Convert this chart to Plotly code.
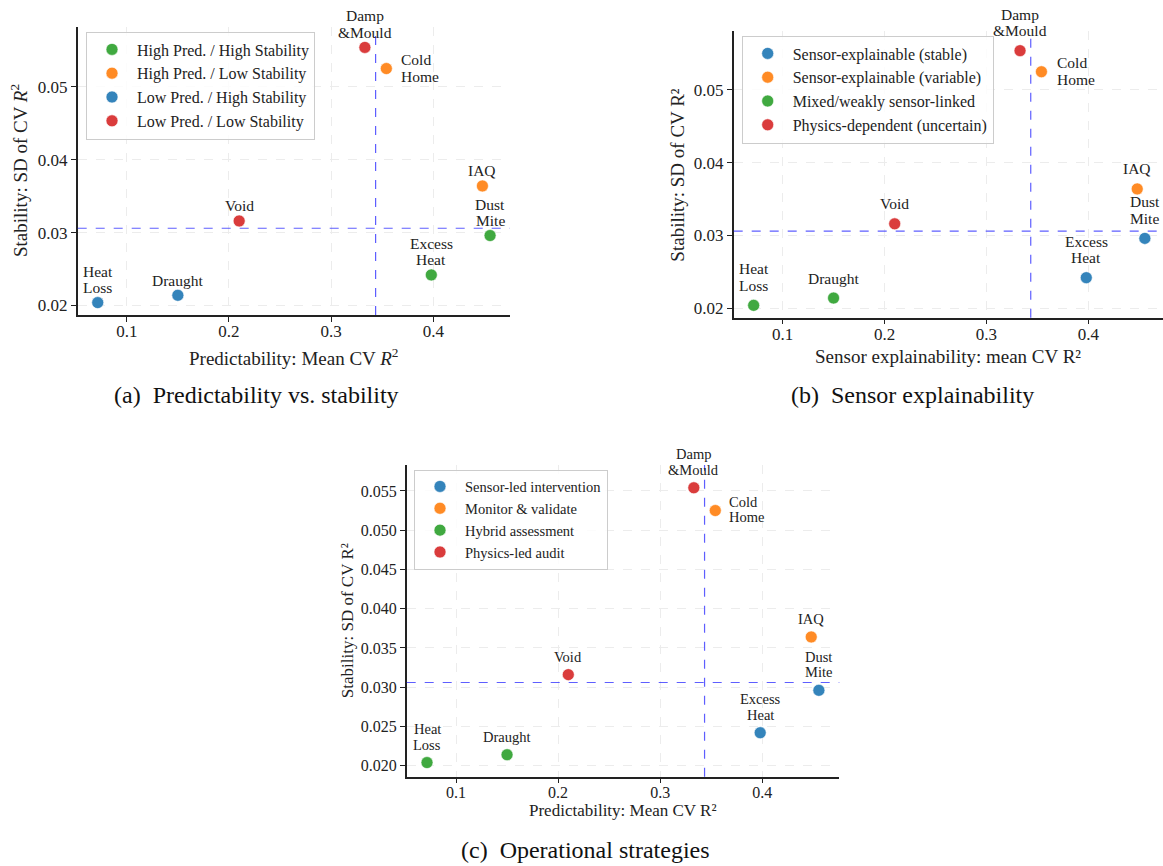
import numpy as np
import plotly.graph_objects as go

W, H = 1163, 866
SERIF = "Liberation Serif, Times New Roman, serif"
TXT = "#222222"

# ---------------- data ----------------
labels = ["Heat Loss", "Draught", "Void", "Damp & Mould", "Cold Home", "IAQ", "Dust Mite", "Excess Heat"]
label_lines = [["Heat", "Loss"], ["Draught"], ["Void"], ["Damp", "&Mould"], ["Cold", "Home"], ["IAQ"], ["Dust", "Mite"], ["Excess", "Heat"]]
label_side = ["above", "above", "above", "above", "right", "above", "above", "above"]
mean_cv_r2 = [0.0716, 0.150, 0.210, 0.333, 0.354, 0.448, 0.4555, 0.398]
sd_cv_r2 = [0.0204, 0.0214, 0.0316, 0.0554, 0.0525, 0.0364, 0.0296, 0.0242]

quadrant = ["Low Pred. / High Stability", "Low Pred. / High Stability",
            "Low Pred. / Low Stability", "Low Pred. / Low Stability",
            "High Pred. / Low Stability", "High Pred. / Low Stability",
            "High Pred. / High Stability", "High Pred. / High Stability"]
quadrant_order = ["High Pred. / High Stability", "High Pred. / Low Stability",
                  "Low Pred. / High Stability", "Low Pred. / Low Stability"]

sensor_class = ["Mixed/weakly sensor-linked", "Mixed/weakly sensor-linked",
                "Physics-dependent (uncertain)", "Physics-dependent (uncertain)",
                "Sensor-explainable (variable)", "Sensor-explainable (variable)",
                "Sensor-explainable (stable)", "Sensor-explainable (stable)"]
sensor_order = ["Sensor-explainable (stable)", "Sensor-explainable (variable)",
                "Mixed/weakly sensor-linked", "Physics-dependent (uncertain)"]

strategy = ["Hybrid assessment", "Hybrid assessment",
            "Physics-led audit", "Physics-led audit",
            "Monitor & validate", "Monitor & validate",
            "Sensor-led intervention", "Sensor-led intervention"]
strategy_order = ["Sensor-led intervention", "Monitor & validate",
                  "Hybrid assessment", "Physics-led audit"]

C_BLUE, C_ORANGE, C_GREEN, C_RED = "#1f77b4", "#ff7f0e", "#2ca02c", "#d62728"
colors_a = [C_GREEN, C_ORANGE, C_BLUE, C_RED]
colors_b = [C_BLUE, C_ORANGE, C_GREEN, C_RED]
colors_c = [C_BLUE, C_ORANGE, C_GREEN, C_RED]

x_med = float(np.median(mean_cv_r2))
y_med = float(np.median(sd_cv_r2))

# ---------------- layout geometry (reference pixels) ----------------
def px_x(p):
    return p / W

def px_y(p):
    return 1 - p / H

panels = [
    dict(xa="x", ya="y", xl="xaxis", yl="yaxis", leg="legend",
         dom_x=(77.7, 510), dom_y=(27, 315), xr=[0.052, 0.475], yr=[0.0187, 0.0582],
         cats=quadrant, order=quadrant_order, cols=colors_a,
         xtitle="Predictability: Mean CV <i>R</i><sup>2</sup>", ytitle="Stability: SD of CV <i>R</i><sup>2</sup>",
         ytick=[0.02, 0.03, 0.04, 0.05], yfmt=".2f",
         xt_y=357, yt_x=19, leg_xy=(86, 31.5), fs_tick=17, fs_title=19, fs_leg=16,
         fs_lab=15.5, lh=16.5, above=15, right_dx=14, right_dy=0.5,
         caption="(a)\u2002Predictability vs. stability", cap_xy=(256, 395)),
    dict(xa="x2", ya="y2", xl="xaxis2", yl="yaxis2", leg="legend2",
         dom_x=(733.7, 1163), dom_y=(31, 317.7), xr=[0.052, 0.4733], yr=[0.0187, 0.0581],
         cats=sensor_class, order=sensor_order, cols=colors_b,
         xtitle="Sensor explainability: mean CV R²", ytitle="Stability: SD of CV R²",
         ytick=[0.02, 0.03, 0.04, 0.05], yfmt=".2f",
         xt_y=356, yt_x=677.3, leg_xy=(741.7, 35.5), fs_tick=17, fs_title=19, fs_leg=16,
         fs_lab=15.5, lh=16.5, above=20, right_dx=14.5, right_dy=0.7,
         caption="(b)\u2002Sensor explainability", cap_xy=(912, 395)),
    dict(xa="x3", ya="y3", xl="xaxis3", yl="yaxis3", leg="legend3",
         dom_x=(406.7, 839.3), dom_y=(465, 776.7), xr=[0.0517, 0.4755], yr=[0.0186, 0.0583],
         cats=strategy, order=strategy_order, cols=colors_c,
         xtitle="Predictability: Mean CV R²", ytitle="Stability: SD of CV R²",
         ytick=[0.020, 0.025, 0.030, 0.035, 0.040, 0.045, 0.050, 0.055], yfmt=".3f",
         xt_y=810, yt_x=348.3, leg_xy=(414, 469.5), fs_tick=16, fs_title=17, fs_leg=14.5,
         fs_lab=14.5, lh=15.5, above=18, right_dx=13, right_dy=0.8,
         caption="(c)\u2002Operational strategies", cap_xy=(585, 850)),
]

fig = go.Figure()
annotations = []
shapes = []
layout = dict(
    width=W, height=H, autosize=False,
    margin=dict(l=0, r=0, t=0, b=0),
    paper_bgcolor="white", plot_bgcolor="white",
    template="none", showlegend=True,
    font=dict(family=SERIF, color=TXT),
)

for p in panels:
    # points, one trace per class
    for cls, col in zip(p["order"], p["cols"]):
        idx = [i for i, c in enumerate(p["cats"]) if c == cls]
        fig.add_trace(go.Scatter(
            x=[mean_cv_r2[i] for i in idx], y=[sd_cv_r2[i] for i in idx],
            mode="markers", name=cls, legend=p["leg"],
            xaxis=p["xa"], yaxis=p["ya"],
            marker=dict(color=col, size=12, opacity=0.9, line=dict(width=0.6, color="white")),
            cliponaxis=False, hoverinfo="text", text=[labels[i] for i in idx],
        ))

    axis_common = dict(
        showline=True, linecolor="#222222", linewidth=1.5, mirror=False,
        ticks="outside", ticklen=5, tickwidth=1.2, tickcolor="#222222",
        showgrid=True, gridcolor="#ececec", griddash="dash", gridwidth=0.8,
        zeroline=False, automargin=False,
        tickfont=dict(family=SERIF, size=p["fs_tick"], color=TXT),
    )
    layout[p["xl"]] = dict(axis_common, domain=[px_x(p["dom_x"][0]), min(1.0, px_x(p["dom_x"][1]))],
                           range=p["xr"], anchor=p["ya"],
                           tickvals=[0.1, 0.2, 0.3, 0.4], tickformat=".1f")
    layout[p["yl"]] = dict(axis_common, domain=[px_y(p["dom_y"][1]), px_y(p["dom_y"][0])],
                           range=p["yr"], anchor=p["xa"],
                           tickvals=p["ytick"], tickformat=p["yfmt"])

    # legend
    layout[p["leg"]] = dict(
        x=px_x(p["leg_xy"][0]), y=px_y(p["leg_xy"][1]), xanchor="left", yanchor="top",
        bgcolor="rgba(255,255,255,0.85)", bordercolor="#cccccc", borderwidth=1,
        font=dict(family=SERIF, size=p["fs_leg"], color=TXT),
        itemwidth=40, traceorder="normal",
    )

    # median threshold lines
    dash_line = dict(color="rgba(40,40,255,0.75)", width=1.2, dash="dash")
    shapes.append(dict(type="line", xref=p["xa"], yref=p["ya"] + " domain",
                       x0=x_med, x1=x_med, y0=0, y1=1, line=dash_line, layer="above"))
    shapes.append(dict(type="line", xref=p["xa"] + " domain", yref=p["ya"],
                       x0=0, x1=1, y0=y_med, y1=y_med, line=dash_line, layer="above"))

    # point labels (one annotation per text line to keep compact line spacing)
    for i in range(len(labels)):
        lines = label_lines[i]
        n = len(lines)
        for k, line in enumerate(lines):
            if label_side[i] == "above":
                yc = p["above"] + (n - 1 - k) * p["lh"]
                annotations.append(dict(
                    x=mean_cv_r2[i], y=sd_cv_r2[i], xref=p["xa"], yref=p["ya"],
                    text=line, showarrow=False, xanchor="center", yanchor="middle",
                    yshift=yc, font=dict(family=SERIF, size=p["fs_lab"], color=TXT)))
            else:
                yc = ((n - 1) / 2 - k) * p["lh"] + p["right_dy"]
                annotations.append(dict(
                    x=mean_cv_r2[i], y=sd_cv_r2[i], xref=p["xa"], yref=p["ya"],
                    text=line, showarrow=False, xanchor="left", yanchor="middle",
                    xshift=p["right_dx"] - 1, yshift=yc,
                    font=dict(family=SERIF, size=p["fs_lab"], color=TXT)))

    # axis titles
    xmid = (p["dom_x"][0] + p["dom_x"][1]) / 2
    ymid = (p["dom_y"][0] + p["dom_y"][1]) / 2
    annotations.append(dict(x=px_x(xmid), y=px_y(p["xt_y"]), xref="paper", yref="paper",
                            text=p["xtitle"], showarrow=False, xanchor="center", yanchor="middle",
                            font=dict(family=SERIF, size=p["fs_title"], color=TXT)))
    annotations.append(dict(x=px_x(p["yt_x"]), y=px_y(ymid), xref="paper", yref="paper",
                            text=p["ytitle"], showarrow=False, textangle=-90,
                            xanchor="center", yanchor="middle",
                            font=dict(family=SERIF, size=p["fs_title"], color=TXT)))
    # caption
    annotations.append(dict(x=px_x(p["cap_xy"][0]), y=px_y(p["cap_xy"][1]), xref="paper", yref="paper",
                            text=p["caption"], showarrow=False, xanchor="center", yanchor="middle",
                            font=dict(family=SERIF, size=24, color="#111111")))

layout["annotations"] = annotations
layout["shapes"] = shapes
fig.update_layout(**layout)
try:
    fig.update_xaxes(ticklabelstandoff=-5)
except Exception:
    pass
fig.write_html("out.html",
               config={"displayModeBar": False},
               post_script="document.body.style.margin='0';document.body.style.overflow='hidden';")
